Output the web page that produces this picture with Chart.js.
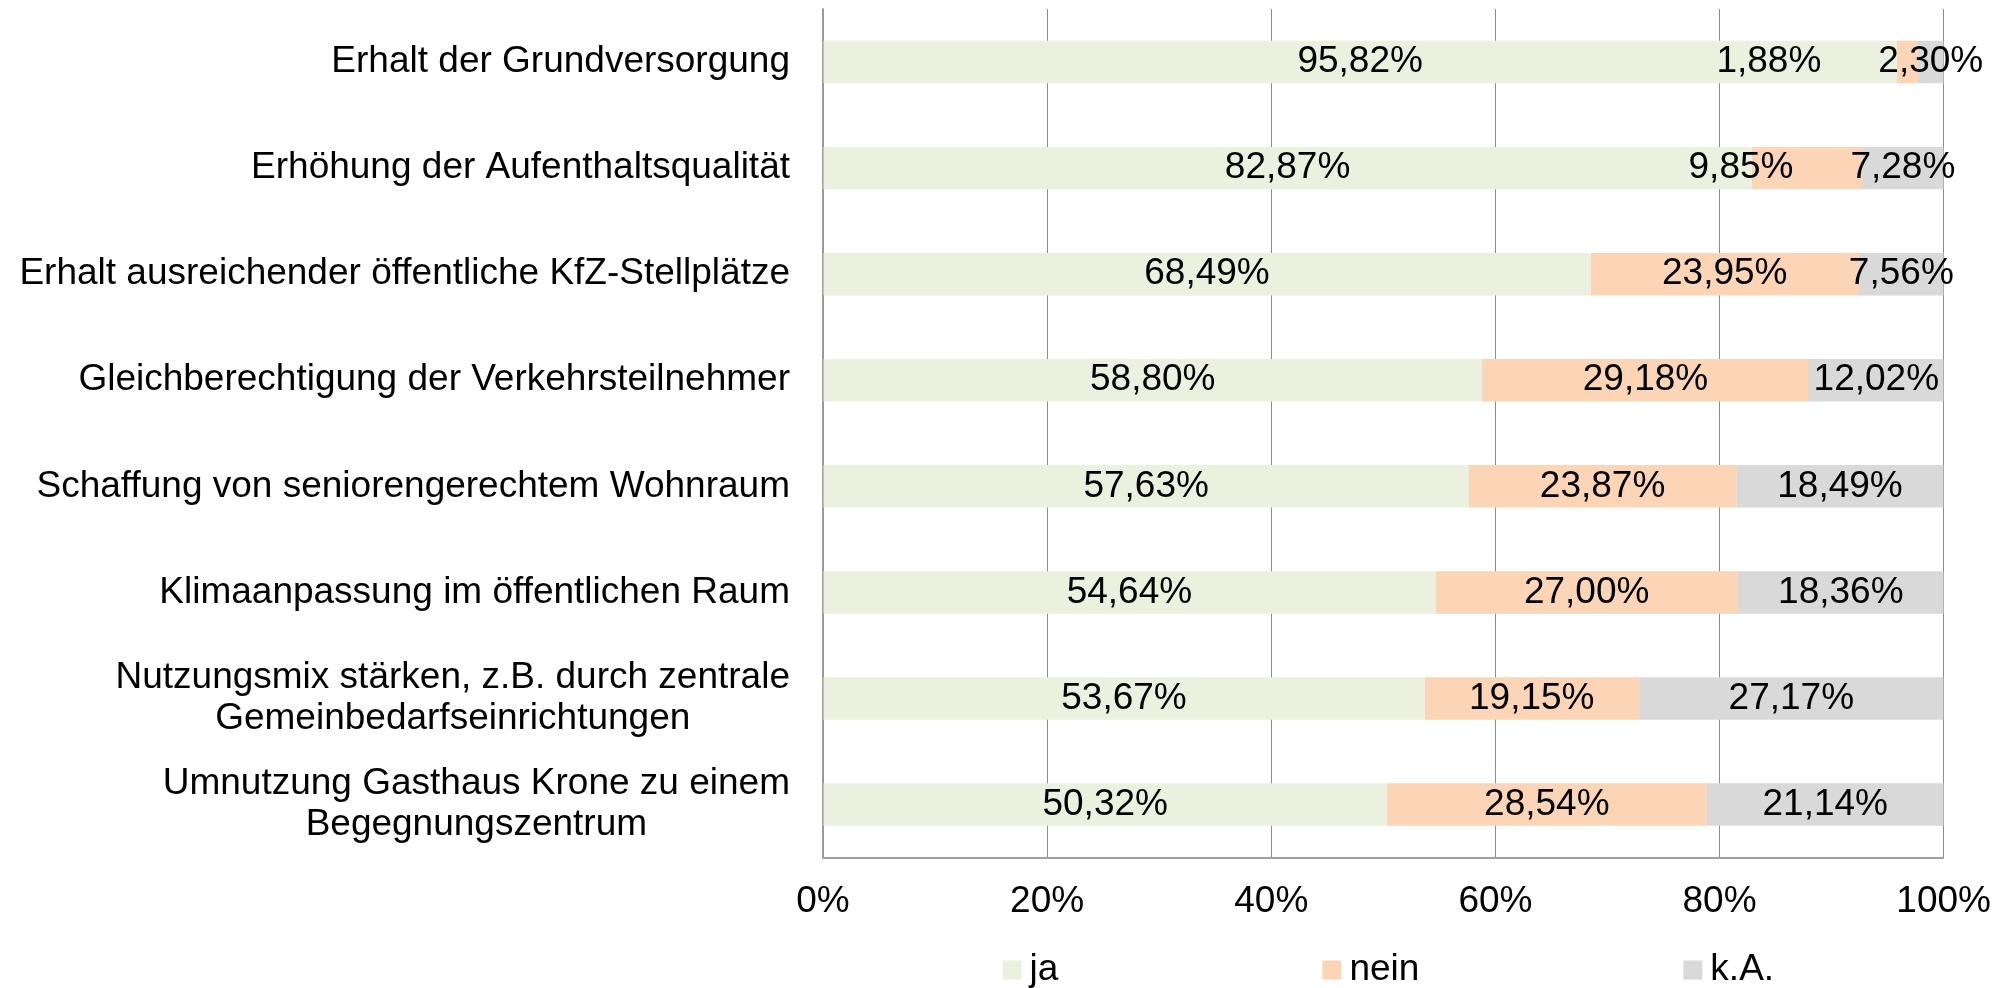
<!DOCTYPE html>
<html lang="de">
<head>
<meta charset="utf-8">
<title>Maßnahmen</title>
<script src="https://cdn.jsdelivr.net/npm/chart.js@4/dist/chart.umd.min.js"></script>
<style>
  html, body { margin: 0; padding: 0; background: #fff; }
  #wrap { width: 2013px; height: 988px; }
</style>
</head>
<body>
<div id="wrap"><canvas id="chart" width="2013" height="988"></canvas></div>
<script>
// Kategorien (mehrzeilige als Array)
const kategorien = [
  'Erhalt der Grundversorgung',
  'Erhöhung der Aufenthaltsqualität',
  'Erhalt ausreichender öffentliche KfZ-Stellplätze',
  'Gleichberechtigung der Verkehrsteilnehmer',
  'Schaffung von seniorengerechtem Wohnraum',
  'Klimaanpassung im öffentlichen Raum',
  ['Nutzungsmix stärken, z.B. durch zentrale', 'Gemeinbedarfseinrichtungen'],
  ['Umnutzung Gasthaus Krone zu einem', 'Begegnungszentrum']
];

// Werte in Prozent
const ja   = [95.82, 82.87, 68.49, 58.80, 57.63, 54.64, 53.67, 50.32];
const nein = [1.88, 9.85, 23.95, 29.18, 23.87, 27.00, 19.15, 28.54];
const ka   = [2.30, 7.28, 7.56, 12.02, 18.49, 18.36, 27.17, 21.14];

const serien = ['ja', 'nein', 'k.A.'];
const farben = ['#EBF0DF', '#FBD5B5', '#D9D9D9'];

const xTicks = [0, 20, 40, 60, 80, 100];

const FONT = "'Liberation Sans', Arial, sans-serif";
const FS = 37;

Chart.defaults.font.family = FONT;
Chart.defaults.font.size = FS;
Chart.defaults.color = '#000';

function fmt(v) {
  return v.toFixed(2).replace('.', ',') + '%';
}

// Kategorie-Beschriftungen: rechtsbündig, mehrzeilige Zeilen zentriert
const yLabelsPlugin = {
  id: 'yLabels',
  afterDraw(chart) {
    const { ctx } = chart;
    const y = chart.scales.y;
    const right = chart.chartArea.left - 33;
    const lh = 41;
    ctx.save();
    ctx.font = `${FS}px ${FONT}`;
    ctx.fillStyle = '#000';
    ctx.textAlign = 'center';
    ctx.textBaseline = 'middle';
    kategorien.forEach((lab, i) => {
      const lines = Array.isArray(lab) ? lab : [lab];
      const w = Math.max(...lines.map(l => ctx.measureText(l).width));
      const cx = right - w / 2;
      const cy = y.getPixelForValue(i);
      lines.forEach((l, j) => {
        ctx.fillText(l, cx, cy + (j - (lines.length - 1) / 2) * lh);
      });
    });
    ctx.restore();
  }
};

// Datenbeschriftungen in den Balken
const dataLabelsPlugin = {
  id: 'dataLabels',
  afterDatasetsDraw(chart) {
    const { ctx } = chart;
    ctx.save();
    ctx.font = `${FS}px ${FONT}`;
    ctx.fillStyle = '#000';
    ctx.textAlign = 'center';
    ctx.textBaseline = 'middle';
    const n = chart.data.labels.length;
    for (let i = 0; i < n; i++) {
      const items = chart.data.datasets.map((ds, d) => {
        const el = chart.getDatasetMeta(d).data[i];
        const txt = fmt(ds.data[i]);
        const w = ctx.measureText(txt).width;
        return { txt, w, x: (el.x + el.base) / 2, y: el.y };
      });
      // Excel schiebt "nein" nach links, wenn es mit "k.A." kollidiert
      const nn = items[1], kk = items[2];
      const gap = 57;
      if (nn.x + nn.w / 2 + gap > kk.x - kk.w / 2) {
        nn.x = kk.x - kk.w / 2 - gap - nn.w / 2;
      }
      items.forEach(it => ctx.fillText(it.txt, it.x, it.y));
    }
    ctx.restore();
  }
};

// Legende, zentriert unter der Zeichenfläche
const legendPlugin = {
  id: 'customLegend',
  afterDraw(chart) {
    const { ctx, chartArea } = chart;
    const box = 19, inner = 8, spacing = 264, cy = 970;
    ctx.save();
    ctx.font = `${FS}px ${FONT}`;
    ctx.textBaseline = 'middle';
    ctx.textAlign = 'left';
    const items = chart.data.datasets.map(ds => ({
      label: ds.label, color: ds.backgroundColor,
      w: box + inner + ctx.measureText(ds.label).width
    }));
    const total = items.reduce((s, it) => s + it.w, 0) + spacing * (items.length - 1);
    let x = (chartArea.left + chartArea.right) / 2 - total / 2 + 5;
    items.forEach(it => {
      ctx.fillStyle = it.color;
      ctx.fillRect(x, cy - box / 2, box, box);
      ctx.fillStyle = '#000';
      ctx.fillText(it.label, x + box + inner, cy);
      x += it.w + spacing;
    });
    ctx.restore();
  }
};

const ctx = document.getElementById('chart').getContext('2d');
new Chart(ctx, {
  type: 'bar',
  data: {
    labels: kategorien.map(k => Array.isArray(k) ? k.join(' ') : k),
    datasets: [
      { label: serien[0], data: ja,   backgroundColor: farben[0] },
      { label: serien[1], data: nein, backgroundColor: farben[1] },
      { label: serien[2], data: ka,   backgroundColor: farben[2] }
    ]
  },
  options: {
    indexAxis: 'y',
    responsive: false,
    devicePixelRatio: 1,
    animation: false,
    datasets: { bar: { barPercentage: 0.4, categoryPercentage: 1, borderWidth: 0 } },
    layout: { padding: { top: 9, right: 68, bottom: 42, left: 0 } },
    plugins: {
      legend: { display: false },
      tooltip: { enabled: false }
    },
    scales: {
      x: {
        stacked: true,
        min: 0,
        max: 100,
        afterBuildTicks: scale => { scale.ticks = xTicks.map(v => ({ value: v })); },
        ticks: { padding: 22, callback: v => v + '%', maxRotation: 0 },
        grid: { color: '#8c8c8c', lineWidth: 1, drawTicks: false },
        border: { display: true, color: '#a0a0a0', width: 2 }
      },
      y: {
        stacked: true,
        ticks: { display: false },
        grid: { display: false },
        border: { display: true, color: '#a0a0a0', width: 1.5 },
        afterFit: scale => { scale.width = 823; }
      }
    }
  },
  plugins: [yLabelsPlugin, dataLabelsPlugin, legendPlugin]
});
</script>
</body>
</html>
